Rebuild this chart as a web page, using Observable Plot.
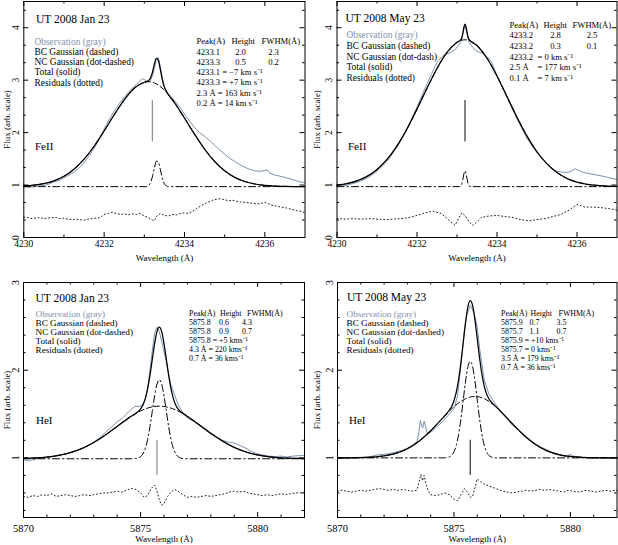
<!DOCTYPE html>
<html><head><meta charset="utf-8">
<script src="https://cdn.jsdelivr.net/npm/d3@7"></script>
<script src="https://cdn.jsdelivr.net/npm/@observablehq/plot@0.6"></script>
<style>
body{margin:0;background:#fff;}
#chart{position:relative;width:618px;height:545px;background:#fff;overflow:hidden;}
#chart > div{position:absolute;}
</style></head><body><div id="chart"></div>
<script>
// ---------------- DATA ----------------
// FeII 4233, UT 2008 Jan 23 : [wavelength Å, flux]
const feJanObs = [[4230,0.97],[4230.125,0.96],[4230.25,0.968],[4230.375,0.985],[4230.5,0.99],[4230.625,1.02],[4230.75,1.06],[4230.875,1.09],[4231,1.14],[4231.125,1.19],[4231.25,1.245],[4231.375,1.33],[4231.5,1.425],[4231.625,1.56],[4231.75,1.70],[4231.875,1.87],[4232,2.07],[4232.125,2.25],[4232.25,2.41],[4232.375,2.55],[4232.5,2.675],[4232.625,2.79],[4232.75,2.885],[4232.875,2.97],[4232.95,3.03],[4233.05,2.99],[4233.1,2.97],[4233.15,2.99],[4233.2,3.08],[4233.25,3.22],[4233.3,3.41],[4233.35,3.43],[4233.4,3.26],[4233.45,3.04],[4233.5,2.88],[4233.6,2.73],[4233.675,2.68],[4233.75,2.61],[4233.875,2.5],[4234,2.35],[4234.125,2.22],[4234.25,2.10],[4234.375,2.0],[4234.5,1.93],[4234.625,1.85],[4234.75,1.76],[4234.875,1.67],[4235,1.59],[4235.125,1.51],[4235.25,1.45],[4235.375,1.39],[4235.5,1.34],[4235.625,1.30],[4235.75,1.27],[4235.875,1.26],[4236,1.28],[4236.06,1.29],[4236.125,1.23],[4236.25,1.19],[4236.375,1.17],[4236.5,1.145],[4236.625,1.12],[4236.75,1.09],[4236.875,1.06],[4237,1.045]];
const feJanBC = [[4230,0.983],[4230.25,0.998],[4230.5,1.028],[4230.75,1.081],[4231,1.168],[4231.25,1.303],[4231.5,1.493],[4231.75,1.740],[4232,2.031],[4232.25,2.340],[4232.5,2.626],[4232.75,2.846],[4233,2.960],[4233.1,2.970],[4233.25,2.947],[4233.5,2.809],[4233.75,2.573],[4234,2.278],[4234.25,1.970],[4234.5,1.686],[4234.75,1.450],[4235,1.272],[4235.25,1.147],[4235.5,1.068],[4235.75,1.020],[4236,0.994],[4236.25,0.981],[4236.5,0.975],[4236.75,0.972],[4237,0.971]];
const feJanNC = [[4230,0.97],[4233.05,0.97],[4233.1,0.988],[4233.15,1.038],[4233.2,1.155],[4233.25,1.326],[4233.3,1.456],[4233.35,1.44],[4233.4,1.291],[4233.45,1.125],[4233.5,1.023],[4233.55,0.983],[4233.6,0.97],[4237,0.97]];
const feJanTotal = [[4230,0.983],[4230.25,0.998],[4230.5,1.028],[4230.75,1.081],[4231,1.168],[4231.25,1.303],[4231.5,1.493],[4231.75,1.740],[4232,2.031],[4232.25,2.340],[4232.5,2.626],[4232.75,2.846],[4233,2.960],[4233.1,2.988],[4233.15,3.035],[4233.2,3.145],[4233.25,3.303],[4233.3,3.414],[4233.35,3.376],[4233.4,3.199],[4233.45,3.001],[4233.5,2.862],[4233.55,2.782],[4233.6,2.724],[4233.75,2.573],[4234,2.278],[4234.25,1.970],[4234.5,1.686],[4234.75,1.450],[4235,1.272],[4235.25,1.147],[4235.5,1.068],[4235.75,1.020],[4236,0.994],[4236.25,0.981],[4236.5,0.975],[4236.75,0.972],[4237,0.971]];
const feJanResid = [[4230,0.39],[4230.1,0.38],[4230.2,0.36],[4230.3,0.37],[4230.4,0.38],[4230.5,0.36],[4230.6,0.37],[4230.7,0.38],[4230.8,0.38],[4230.9,0.36],[4231,0.37],[4231.1,0.35],[4231.2,0.34],[4231.3,0.35],[4231.4,0.34],[4231.5,0.33],[4231.6,0.35],[4231.7,0.36],[4231.8,0.37],[4231.9,0.38],[4232,0.44],[4232.1,0.46],[4232.2,0.48],[4232.3,0.46],[4232.4,0.44],[4232.5,0.45],[4232.6,0.43],[4232.7,0.45],[4232.8,0.44],[4232.9,0.46],[4233,0.41],[4233.1,0.38],[4233.2,0.33],[4233.25,0.32],[4233.3,0.40],[4233.4,0.46],[4233.5,0.42],[4233.6,0.41],[4233.7,0.44],[4233.8,0.43],[4233.9,0.46],[4234,0.47],[4234.1,0.46],[4234.2,0.5],[4234.3,0.55],[4234.4,0.6],[4234.5,0.64],[4234.6,0.68],[4234.7,0.71],[4234.8,0.73],[4234.9,0.74],[4235,0.72],[4235.1,0.7],[4235.2,0.71],[4235.3,0.69],[4235.4,0.68],[4235.5,0.67],[4235.6,0.66],[4235.7,0.65],[4235.8,0.64],[4235.9,0.65],[4236,0.67],[4236.1,0.64],[4236.2,0.61],[4236.3,0.6],[4236.4,0.58],[4236.5,0.57],[4236.6,0.55],[4236.7,0.53],[4236.8,0.51],[4236.9,0.5],[4237,0.47]];
const feJanRest = [4233.2, 1.82, 2.61];

// FeII 4233, UT 2008 May 23
const feMayObs = [[4230,0.97],[4230.25,1.0],[4230.5,1.05],[4230.75,1.13],[4231,1.26],[4231.25,1.45],[4231.5,1.72],[4231.75,2.07],[4232,2.49],[4232.25,2.93],[4232.5,3.34],[4232.65,3.47],[4232.75,3.5],[4232.85,3.53],[4232.95,3.58],[4233.05,3.68],[4233.1,3.74],[4233.15,3.88],[4233.2,4.06],[4233.25,3.88],[4233.3,3.72],[4233.4,3.62],[4233.5,3.55],[4233.62,3.52],[4233.75,3.45],[4233.87,3.34],[4234,3.08],[4234.25,2.67],[4234.5,2.26],[4234.75,1.89],[4235,1.61],[4235.25,1.40],[4235.4,1.30],[4235.5,1.26],[4235.6,1.25],[4235.75,1.24],[4235.85,1.26],[4235.95,1.31],[4236.05,1.28],[4236.15,1.24],[4236.3,1.22],[4236.5,1.19],[4236.7,1.16],[4236.85,1.13],[4237,1.11]];
const feMayBC = [[4230,1.000],[4230.25,1.029],[4230.5,1.080],[4230.75,1.165],[4231,1.297],[4231.25,1.488],[4231.5,1.747],[4231.75,2.072],[4232,2.448],[4232.25,2.846],[4232.5,3.223],[4232.75,3.529],[4233,3.721],[4233.2,3.770],[4233.5,3.660],[4233.75,3.418],[4234,3.078],[4234.25,2.687],[4234.5,2.293],[4234.75,1.934],[4235,1.635],[4235.25,1.404],[4235.5,1.238],[4235.75,1.126],[4236,1.056],[4236.25,1.015],[4236.5,0.992],[4236.75,0.980],[4237,0.975]];
const feMayNC = [[4230,0.97],[4233.05,0.97],[4233.1,0.989],[4233.125,1.033],[4233.15,1.120],[4233.175,1.222],[4233.2,1.270],[4233.225,1.222],[4233.25,1.120],[4233.275,1.033],[4233.3,0.989],[4233.35,0.97],[4237,0.97]];
const feMayTotal = [[4230,1.000],[4230.25,1.029],[4230.5,1.080],[4230.75,1.165],[4231,1.297],[4231.25,1.488],[4231.5,1.747],[4231.75,2.072],[4232,2.448],[4232.25,2.846],[4232.5,3.223],[4232.75,3.529],[4233,3.721],[4233.1,3.777],[4233.125,3.826],[4233.15,3.917],[4233.175,4.021],[4233.2,4.070],[4233.225,4.021],[4233.25,3.917],[4233.275,3.828],[4233.3,3.777],[4233.5,3.660],[4233.75,3.418],[4234,3.078],[4234.25,2.687],[4234.5,2.293],[4234.75,1.934],[4235,1.635],[4235.25,1.404],[4235.5,1.238],[4235.75,1.126],[4236,1.056],[4236.25,1.015],[4236.5,0.992],[4236.75,0.980],[4237,0.975]];
const feMayResid = [[4230,0.36],[4230.2,0.35],[4230.4,0.36],[4230.6,0.35],[4230.8,0.36],[4231,0.35],[4231.2,0.34],[4231.4,0.35],[4231.6,0.36],[4231.8,0.38],[4232,0.42],[4232.2,0.47],[4232.4,0.5],[4232.6,0.46],[4232.8,0.33],[4232.95,0.23],[4233.05,0.38],[4233.12,0.47],[4233.2,0.42],[4233.3,0.3],[4233.4,0.23],[4233.5,0.3],[4233.6,0.38],[4233.8,0.41],[4234,0.42],[4234.2,0.4],[4234.4,0.38],[4234.6,0.34],[4234.8,0.32],[4235,0.34],[4235.2,0.36],[4235.4,0.4],[4235.6,0.44],[4235.8,0.52],[4236,0.63],[4236.2,0.58],[4236.4,0.58],[4236.6,0.57],[4236.8,0.55],[4237,0.52]];
const feMayRest = [4233.2, 1.82, 2.61];

// HeI 5876, UT 2008 Jan 23
const heJanObs = [[5870,0.98],[5870.25,0.965],[5870.5,0.985],[5870.75,1.0],[5871,1.01],[5871.25,1.02],[5871.5,1.03],[5871.75,1.045],[5872,1.06],[5872.25,1.085],[5872.5,1.11],[5872.75,1.14],[5873,1.18],[5873.25,1.23],[5873.5,1.29],[5873.75,1.35],[5874,1.41],[5874.25,1.46],[5874.5,1.53],[5874.75,1.585],[5875,1.59],[5875.1,1.61],[5875.2,1.67],[5875.3,1.79],[5875.4,2.0],[5875.5,2.22],[5875.6,2.42],[5875.7,2.49],[5875.8,2.44],[5875.9,2.33],[5876,2.21],[5876.1,2.1],[5876.2,1.95],[5876.3,1.83],[5876.45,1.72],[5876.6,1.61],[5876.8,1.52],[5877,1.455],[5877.25,1.42],[5877.5,1.37],[5877.75,1.32],[5878,1.27],[5878.25,1.235],[5878.5,1.2],[5878.75,1.18],[5879,1.17],[5879.25,1.14],[5879.5,1.11],[5879.75,1.07],[5880,1.045],[5880.25,1.03],[5880.5,1.02],[5880.75,1.015],[5881,1.02],[5881.25,1.01],[5881.5,1.02],[5881.75,1.025],[5882,1.03]];
const heJanBC = [[5870,0.994],[5870.5,0.999],[5871,1.009],[5871.5,1.028],[5872,1.059],[5872.5,1.107],[5873,1.175],[5873.5,1.261],[5874,1.359],[5874.5,1.456],[5875,1.535],[5875.5,1.582],[5875.8,1.590],[5876,1.586],[5876.5,1.547],[5877,1.473],[5877.5,1.379],[5878,1.280],[5878.5,1.191],[5879,1.119],[5879.5,1.067],[5880,1.033],[5880.5,1.012],[5881,1.000],[5881.5,0.995],[5882,0.992]];
const heJanNC = [[5870,0.99],[5874.6,0.99],[5874.8,0.993],[5874.9,0.999],[5875,1.014],[5875.1,1.046],[5875.2,1.107],[5875.3,1.209],[5875.4,1.354],[5875.5,1.531],[5875.6,1.708],[5875.7,1.841],[5875.8,1.890],[5875.9,1.841],[5876,1.708],[5876.1,1.531],[5876.2,1.354],[5876.3,1.209],[5876.4,1.107],[5876.5,1.046],[5876.6,1.014],[5876.7,0.999],[5876.8,0.993],[5877,0.99],[5882,0.99]];
const heJanTotal = [[5870,0.994],[5870.5,0.999],[5871,1.009],[5871.5,1.028],[5872,1.059],[5872.5,1.107],[5873,1.175],[5873.5,1.261],[5874,1.359],[5874.5,1.456],[5874.8,1.509],[5874.9,1.530],[5875,1.559],[5875.1,1.603],[5875.2,1.675],[5875.3,1.787],[5875.4,1.940],[5875.5,2.123],[5875.6,2.304],[5875.7,2.440],[5875.8,2.490],[5875.9,2.440],[5876,2.304],[5876.1,2.123],[5876.2,1.940],[5876.3,1.787],[5876.4,1.675],[5876.5,1.603],[5876.6,1.559],[5876.7,1.530],[5876.8,1.509],[5877,1.473],[5877.5,1.379],[5878,1.280],[5878.5,1.191],[5879,1.119],[5879.5,1.067],[5880,1.033],[5880.5,1.012],[5881,1.000],[5881.5,0.995],[5882,0.992]];
const heJanResid = [[5870,0.56],[5870.2,0.55],[5870.4,0.57],[5870.6,0.56],[5870.8,0.58],[5871,0.57],[5871.2,0.59],[5871.4,0.56],[5871.6,0.57],[5871.8,0.58],[5872,0.57],[5872.2,0.56],[5872.4,0.57],[5872.6,0.58],[5872.8,0.57],[5873,0.58],[5873.2,0.59],[5873.4,0.6],[5873.6,0.6],[5873.8,0.61],[5874,0.62],[5874.2,0.61],[5874.4,0.63],[5874.6,0.65],[5874.8,0.64],[5875,0.6],[5875.15,0.55],[5875.3,0.57],[5875.45,0.65],[5875.6,0.69],[5875.7,0.62],[5875.8,0.52],[5875.9,0.46],[5876,0.48],[5876.15,0.56],[5876.3,0.61],[5876.45,0.64],[5876.6,0.62],[5876.8,0.58],[5877,0.55],[5877.2,0.56],[5877.4,0.55],[5877.6,0.56],[5877.8,0.57],[5878,0.56],[5878.2,0.57],[5878.4,0.58],[5878.6,0.59],[5878.8,0.61],[5879,0.62],[5879.2,0.61],[5879.4,0.62],[5879.6,0.6],[5879.8,0.59],[5880,0.58],[5880.2,0.57],[5880.4,0.58],[5880.6,0.57],[5880.8,0.58],[5881,0.59],[5881.2,0.58],[5881.4,0.59],[5881.6,0.6],[5881.8,0.6],[5882,0.61]];
const heJanRest = [5875.7, 0.8, 1.2];

// HeI 5876, UT 2008 May 23
const heMayObs = [[5870,1.0],[5870.25,0.995],[5870.5,1.0],[5870.75,1.005],[5871,1.005],[5871.25,1.01],[5871.5,1.02],[5871.75,1.035],[5872,1.04],[5872.25,1.05],[5872.5,1.066],[5872.75,1.085],[5873,1.11],[5873.2,1.14],[5873.42,1.19],[5873.5,1.30],[5873.56,1.43],[5873.62,1.36],[5873.66,1.34],[5873.72,1.42],[5873.78,1.36],[5873.85,1.28],[5874,1.29],[5874.25,1.35],[5874.5,1.41],[5874.8,1.50],[5875,1.56],[5875.15,1.70],[5875.3,2.05],[5875.45,2.45],[5875.55,2.63],[5875.7,2.74],[5875.8,2.69],[5875.9,2.61],[5876,2.49],[5876.1,2.25],[5876.3,1.89],[5876.5,1.73],[5876.7,1.645],[5876.9,1.57],[5877.1,1.50],[5877.3,1.44],[5877.5,1.375],[5877.75,1.32],[5878,1.265],[5878.25,1.21],[5878.5,1.16],[5878.75,1.12],[5879,1.09],[5879.25,1.06],[5879.5,1.035],[5879.75,1.02],[5879.9,1.025],[5880,1.04],[5880.1,1.02],[5880.3,1.01],[5880.5,1.005],[5880.75,1.0],[5881,0.995],[5881.25,1.0],[5881.5,1.005],[5881.75,1.0],[5882,1.0]];
const heMayBC = [[5870,1.000],[5870.5,1.001],[5871,1.003],[5871.5,1.009],[5872,1.022],[5872.5,1.051],[5873,1.104],[5873.5,1.190],[5874,1.309],[5874.5,1.449],[5875,1.583],[5875.5,1.675],[5875.7,1.694],[5875.9,1.700],[5876.1,1.694],[5876.5,1.645],[5877,1.532],[5877.5,1.392],[5878,1.258],[5878.5,1.152],[5879,1.080],[5879.5,1.037],[5880,1.016],[5880.5,1.006],[5881,1.002],[5881.5,1.001],[5882,1.000]];
const heMayNC = [[5870,1.0],[5874.6,1.0],[5874.7,1.004],[5874.8,1.011],[5874.9,1.029],[5875,1.069],[5875.1,1.144],[5875.2,1.268],[5875.3,1.445],[5875.4,1.661],[5875.5,1.877],[5875.6,2.040],[5875.7,2.100],[5875.8,2.040],[5875.9,1.877],[5876,1.661],[5876.1,1.445],[5876.2,1.268],[5876.3,1.144],[5876.4,1.069],[5876.5,1.029],[5876.6,1.011],[5876.7,1.004],[5876.8,1.0],[5882,1.0]];
const heMayTotal = [[5870,1.000],[5870.5,1.001],[5871,1.003],[5871.5,1.009],[5872,1.022],[5872.5,1.051],[5873,1.104],[5873.5,1.190],[5874,1.309],[5874.5,1.449],[5874.6,1.478],[5874.7,1.509],[5874.8,1.543],[5874.9,1.587],[5875,1.652],[5875.1,1.750],[5875.2,1.894],[5875.3,2.090],[5875.4,2.322],[5875.5,2.552],[5875.6,2.726],[5875.7,2.794],[5875.8,2.738],[5875.9,2.577],[5876,2.359],[5876.1,2.139],[5876.2,1.954],[5876.3,1.819],[5876.4,1.730],[5876.5,1.674],[5876.6,1.637],[5876.7,1.610],[5876.8,1.584],[5877,1.532],[5877.5,1.392],[5878,1.258],[5878.5,1.152],[5879,1.080],[5879.5,1.037],[5880,1.016],[5880.5,1.006],[5881,1.002],[5881.5,1.001],[5882,1.000]];
const heMayResid = [[5870,0.62],[5870.2,0.63],[5870.4,0.62],[5870.6,0.61],[5870.8,0.62],[5871,0.63],[5871.2,0.62],[5871.4,0.63],[5871.6,0.64],[5871.8,0.65],[5872,0.64],[5872.2,0.63],[5872.4,0.64],[5872.6,0.63],[5872.8,0.64],[5873,0.63],[5873.2,0.62],[5873.4,0.63],[5873.5,0.72],[5873.58,0.81],[5873.65,0.74],[5873.72,0.8],[5873.8,0.7],[5873.9,0.62],[5874,0.58],[5874.2,0.57],[5874.4,0.58],[5874.6,0.6],[5874.8,0.58],[5875,0.53],[5875.15,0.51],[5875.3,0.58],[5875.45,0.65],[5875.55,0.62],[5875.7,0.55],[5875.8,0.56],[5875.9,0.66],[5876,0.76],[5876.1,0.74],[5876.3,0.7],[5876.5,0.68],[5876.7,0.66],[5876.9,0.64],[5877.1,0.62],[5877.3,0.61],[5877.5,0.6],[5877.7,0.61],[5877.9,0.62],[5878.1,0.63],[5878.3,0.62],[5878.5,0.63],[5878.7,0.64],[5878.9,0.63],[5879.1,0.64],[5879.3,0.63],[5879.5,0.62],[5879.7,0.61],[5879.9,0.63],[5880.1,0.62],[5880.3,0.61],[5880.5,0.62],[5880.7,0.63],[5880.9,0.62],[5881.1,0.61],[5881.3,0.62],[5881.5,0.63],[5881.7,0.62],[5881.9,0.63],[5882,0.63]];
const heMayRest = [5875.7, 0.8, 1.2];

// tick values
const feXMajor = [4230, 4232, 4234, 4236];
const feXMinor = [4231, 4233, 4235];
const feYMajor = [0, 1, 2, 3, 4];
const feYMinor = [0.333, 0.667, 1.333, 1.667, 2.333, 2.667, 3.333, 3.667, 4.333];
const heXMajor = [5870, 5875, 5880];
const heXMinor = [5871, 5872, 5873, 5874, 5876, 5877, 5878, 5879, 5881];
const heYMajor = [1, 2, 3];
const heYMinor = [0.4, 0.6, 0.8, 1.2, 1.4, 1.6, 1.8, 2.2, 2.4, 2.6, 2.8];

// texts
const fitHeader = ["Peak(Å)", "Height", "FWHM(Å)"];
const legendA = ["Observation (gray)", "BC Gaussian (dashed)", "NC Gaussian (dot-dashed)", "Total (solid)", "Residuals (dotted)"];
const legendB = ["Observation (gray)", "BC Gaussian (dashed)", "NC Gaussian (dot-dash)", "Total (solid)", "Residuals (dotted)"];
const feJanFit = [["4233.1", "2.0", "2.3"], ["4233.3", "0.5", "0.2"]];
const feJanVel = ["4233.1 = −7 km s⁻¹", "4233.3 = +7 km s⁻¹", "2.3 Å = 163 km s⁻¹", "0.2 Å = 14 km s⁻¹"];
const feMayFit = [["4233.2", "2.8", "2.5"], ["4233.2", "0.3", "0.1"]];
const feMayVel = [["4233.2", "= 0 km s⁻¹"], ["2.5 Å", "= 177 km s⁻¹"], ["0.1 Å", "= 7 km s⁻¹"]];
const heJanFit = [["5875.8", "0.6", "4.3"], ["5875.8", "0.9", "0.7"]];
const heJanVel = ["5875.8 = +5 kms⁻¹", "4.3 Å = 220 kms⁻¹", "0.7 Å = 36 kms⁻¹"];
const heMayFit = [["5875.9", "0.7", "3.5"], ["5875.7", "1.1", "0.7"]];
const heMayVel = ["5875.9 = +10 kms⁻¹", "5875.7 = 0 kms⁻¹", "3.5 Å = 179 kms⁻¹", "0.7 Å = 36 kms⁻¹"];

// ---------------- DRAWING ----------------
const OBS = "#7f93ad";
const FONT = "'Liberation Serif', 'Times New Roman', serif";

function panel(d) {
  const fw = d.width - d.ml - d.mr, fh = d.height - d.mt - d.mb;
  const fx = d.left + d.ml, fy = d.top + d.mt;
  const T = (str, x, y, o = {}) => Plot.text([str], {
    text: s => s, frameAnchor: "top-left", dx: x - fx, dy: y - fy,
    textAnchor: o.anchor || "start", lineAnchor: "middle",
    fontSize: o.size || 9, fill: o.fill || "black"
  });
  const L = d.layout;
  const rs = L.rsize, ls = L.lsize;
  const texts = [];
  texts.push(T(d.date, L.title[0], L.title[1], {size: 11.5}));
  d.legend.forEach((s, i) => texts.push(T(s, L.left[0], L.left[1] + i * L.left[2], {size: ls, fill: i === 0 ? OBS : "black"})));
  fitHeader.forEach((s, i) => texts.push(T(s, L.head[i], L.hy, {size: rs})));
  d.fit.forEach((row, r) => row.forEach((s, c) => texts.push(T(s, L.cols[c][0], L.hy + L.step * (r + 1), {size: rs, anchor: L.cols[c][1]}))));
  d.vel.forEach((v, r) => {
    const y = L.hy + L.step * (d.fit.length + r + 1);
    if (Array.isArray(v)) { texts.push(T(v[0], L.head[0], y, {size: rs})); texts.push(T(v[1], L.eq, y, {size: rs})); }
    else texts.push(T(v, L.head[0], y, {size: rs}));
  });
  texts.push(T(d.ion, L.ion[0], L.ion[1], {size: 11}));
  const xy = {x: p => p[0], y: p => p[1]};
  const plot = Plot.plot({
    width: d.width, height: d.height,
    marginTop: d.mt, marginRight: d.mr, marginBottom: d.mb, marginLeft: d.ml,
    x: {domain: d.xDomain, axis: null}, y: {domain: d.yDomain, axis: null},
    style: {fontFamily: FONT, background: "transparent", overflow: "visible", color: "black"},
    marks: [
      Plot.line(d.obs, {...xy, stroke: OBS, strokeWidth: 1}),
      Plot.line(d.resid, {...xy, stroke: "#222", strokeWidth: 1, strokeDasharray: "1,2.6"}),
      Plot.line(d.nc, {...xy, curve: "monotone-x", stroke: "black", strokeWidth: 1, strokeDasharray: "7,3,1.5,3"}),
      Plot.line(d.bc, {...xy, curve: "monotone-x", stroke: "black", strokeWidth: 1, strokeDasharray: "5,3"}),
      Plot.line(d.total, {...xy, curve: "monotone-x", stroke: "black", strokeWidth: 1.25}),
      Plot.ruleX([d.rest], {x: r => r[0], y1: r => r[1], y2: r => r[2], stroke: d.restColor, strokeWidth: 1.2}),
      Plot.frame({stroke: "black", strokeWidth: 1}),
      Plot.tickX(d.xMajor, {x: v => v, insetTop: fh - 5, stroke: "black"}),
      Plot.tickX(d.xMajor, {x: v => v, insetBottom: fh - 5, stroke: "black"}),
      Plot.tickX(d.xMinor, {x: v => v, insetTop: fh - 2.5, stroke: "black"}),
      Plot.tickX(d.xMinor, {x: v => v, insetBottom: fh - 2.5, stroke: "black"}),
      Plot.tickY(d.yMajor, {y: v => v, insetRight: fw - 5, stroke: "black"}),
      Plot.tickY(d.yMajor, {y: v => v, insetLeft: fw - 5, stroke: "black"}),
      Plot.tickY(d.yMinor, {y: v => v, insetRight: fw - 2.5, stroke: "black"}),
      Plot.tickY(d.yMinor, {y: v => v, insetLeft: fw - 2.5, stroke: "black"}),
      Plot.text(d.xMajor, {x: v => v, text: v => String(v), frameAnchor: "bottom", dy: d.xLabDy, lineAnchor: "middle", fontSize: d.tickFont}),
      Plot.text(d.yMajor, {y: v => v, text: v => String(v), frameAnchor: "left", dx: -5, rotate: -90, textAnchor: "middle", lineAnchor: "bottom", fontSize: d.tickFont}),
      Plot.text(["Wavelength (Å)"], {text: s => s, frameAnchor: "bottom", dy: d.xTitleDy, lineAnchor: "middle", fontSize: 9}),
      Plot.text(["Flux (arb. scale)"], {text: s => s, frameAnchor: "left", dx: d.yTitleDx, rotate: -90, textAnchor: "middle", lineAnchor: "top", fontSize: 9}),
      ...texts
    ]
  });
  const div = document.createElement("div");
  div.style.left = d.left + "px";
  div.style.top = d.top + "px";
  div.appendChild(plot);
  return div;
}

const topRow = {top: 0, height: 272, mt: 1, mb: 35, xDomain: [4230, 4237], yDomain: [0, 4.5],
  xMajor: feXMajor, xMinor: feXMinor, yMajor: feYMajor, yMinor: feYMinor, tickFont: 9.5, xLabDy: 6, xTitleDy: 21, ion: "FeII"};
const botRow = {top: 272, height: 273, mt: 10, mb: 28, xDomain: [5870, 5882], yDomain: [0.32, 3],
  xMajor: heXMajor, xMinor: heXMinor, yMajor: heYMajor, yMinor: heYMinor, tickFont: 10.5, xLabDy: 11, xTitleDy: 22, ion: "HeI"};

const panels = [
  {...topRow, left: 0, width: 309, ml: 23.3, mr: 4.5, yTitleDx: -20.3,
    obs: feJanObs, bc: feJanBC, nc: feJanNC, total: feJanTotal, resid: feJanResid, rest: feJanRest, restColor: "#8c8c8c",
    date: "UT 2008 Jan 23", legend: legendA, fit: feJanFit, vel: feJanVel,
    layout: {title: [35.5, 18.5], left: [34, 41, 10.25], lsize: 9.4, rsize: 8.6, head: [196, 231, 261], hy: 41, step: 10.3,
      cols: [[196, "start"], [240, "middle"], [273, "middle"]], ion: [34.5, 145.5]}},
  {...topRow, left: 309, width: 309, ml: 27.5, mr: 1.5, yTitleDx: -23.5,
    obs: feMayObs, bc: feMayBC, nc: feMayNC, total: feMayTotal, resid: feMayResid, rest: feMayRest, restColor: "#333",
    date: "UT 2008 May 23", legend: legendB, fit: feMayFit, vel: feMayVel,
    layout: {title: [345, 17.5], left: [346, 34.5, 10.75], lsize: 9.4, rsize: 8.6, head: [509, 543, 572], hy: 24.5, step: 10.6, eq: 537,
      cols: [[509, "start"], [555, "middle"], [591.5, "middle"]], ion: [347.5, 145.5]}},
  {...botRow, left: 0, width: 309, ml: 23, mr: 5, yTitleDx: -20,
    obs: heJanObs, bc: heJanBC, nc: heJanNC, total: heJanTotal, resid: heJanResid, rest: heJanRest, restColor: "#8c8c8c",
    date: "UT 2008 Jan 23", legend: legendA, fit: heJanFit, vel: heJanVel,
    layout: {title: [35, 298], left: [35, 313.3, 9], lsize: 9.2, rsize: 7.9, head: [188.5, 219.5, 246.5], hy: 313.3, step: 8.9,
      cols: [[188.5, "start"], [218.5, "start"], [241.5, "start"]], ion: [35.5, 419.5]}},
  {...botRow, left: 309, width: 309, ml: 28, mr: 1.5, yTitleDx: -24,
    obs: heMayObs, bc: heMayBC, nc: heMayNC, total: heMayTotal, resid: heMayResid, rest: heMayRest, restColor: "#333",
    date: "UT 2008 May 23", legend: legendA, fit: heMayFit, vel: heMayVel,
    layout: {title: [346.5, 296.7], left: [346, 313.3, 9], lsize: 9.2, rsize: 7.9, head: [500.5, 530, 558], hy: 313.3, step: 8.9,
      cols: [[500.5, "start"], [529, "start"], [556, "start"]], ion: [348.5, 419.5]}}
];

const chart = document.getElementById("chart");
panels.forEach(p => chart.appendChild(panel(p)));
</script>
</body></html>
